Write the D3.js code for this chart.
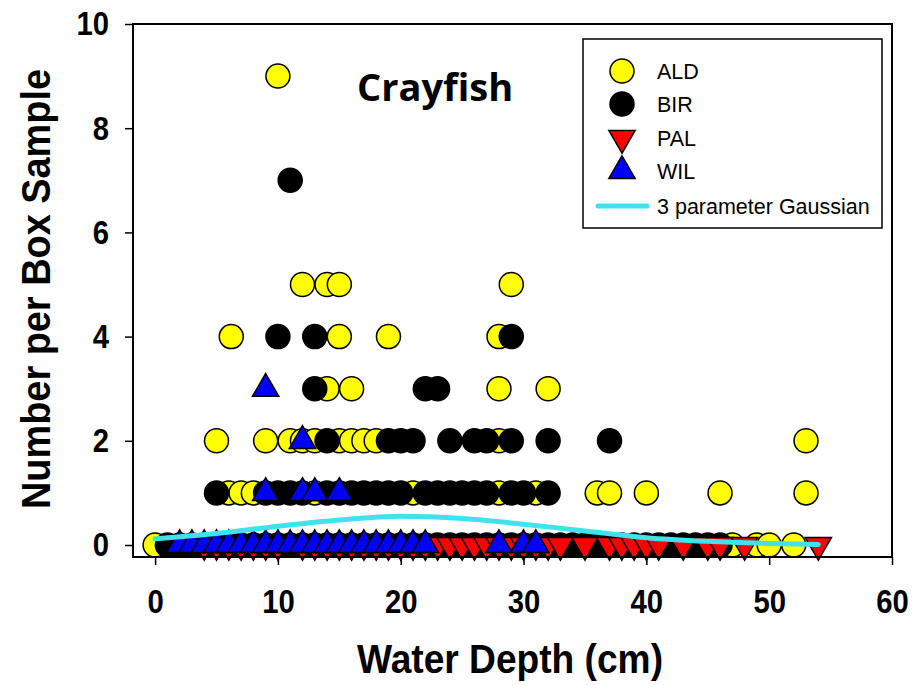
<!DOCTYPE html>
<html><head><meta charset="utf-8">
<script src="https://cdn.jsdelivr.net/npm/d3@7"></script>
<style>body{margin:0;background:#fff}</style>
</head><body><svg id="c" width="914" height="685"></svg>
<script>
// ---- data ----
const xTicks = [0, 10, 20, 30, 40, 50, 60];
const yTicks = [0, 2, 4, 6, 8, 10];
const seriesNames = ["ALD", "BIR", "PAL", "WIL"];

const aldDepth = [10, 12,14,15,29, 6.2,15,19,28, 14,16,28,32, 5,9,11,12,13,15,16,17,18,28,53, 6,7,8,13,21,28,31,36,37,40,46,53, 0,47,49,50,52];
const aldCount = [9, 5,5,5,5, 4,4,4,4, 3,3,3,3, 2,2,2,2,2,2,2,2,2,2,2, 1,1,1,1,1,1,1,1,1,1,1,1, 0,0,0,0,0];

const birDepth = [11, 10,13,29, 13,22,23, 14,19,20,21,24,26,27,29,32,37,
  5,9,10,11,12,14,15,16,17,18,19,20,22,23,24,25,26,27,29,30,32,
  1,2,3,4,5,6,7,8,9,10,11,12,13,14,15,16,17,18,19,20,21,22,23,24,25,26,27,28,29,30,31,32,33,34,35,36,37,38,39,40,41,42,43,44,45,46];
const birCount = [7, 4,4,4, 3,3,3, 2,2,2,2,2,2,2,2,2,2,
  1,1,1,1,1,1,1,1,1,1,1,1,1,1,1,1,1,1,1,1,1,
  0,0,0,0,0,0,0,0,0,0,0,0,0,0,0,0,0,0,0,0,0,0,0,0,0,0,0,0,0,0,0,0,0,0,0,0,0,0,0,0,0,0,0,0,0,0];

const palDepth = [4,5,6,7,8,9,10,12,13,14,15,16,17,18,19,20,21,22,23,24,25,26,27,28,29,30,31,32,33,35,37,38,39,40,41,43,45,46,48,54];
const palCount = [0,0,0,0,0,0,0,0,0,0,0,0,0,0,0,0,0,0,0,0,0,0,0,0,0,0,0,0,0,0,0,0,0,0,0,0,0,0,0,0];

const wilDepth = [9, 12, 9,12,13,15, 2,3,4,5,6,7,8,9,10,11,12,13,14,15,16,17,18,19,20,21,22,28,30,31];
const wilCount = [3, 2, 1,1,1,1, 0,0,0,0,0,0,0,0,0,0,0,0,0,0,0,0,0,0,0,0,0,0,0,0];

// 3 parameter Gaussian fit curve
const fitDepth = [0, 5, 10, 15, 20, 25, 30, 35, 40, 45, 50, 54];
const fitCount = [0.12, 0.22, 0.36, 0.48, 0.55, 0.51, 0.40, 0.27, 0.14, 0.07, 0.03, 0.01];

// ---- drawing ----
const svg = d3.select("#c");
const L = 133, R = 892, T = 24, B = 557;
const x = d3.scaleLinear().domain([-1.8, 60]).range([L, R]);
const y = d3.scaleLinear().domain([-0.23, 10]).range([B, T]);
const font = "'Liberation Sans', Arial, sans-serif";

const zip = (a, b) => a.map((v, i) => [v, b[i]]);
function condense(sel, f) {
  sel.each(function () {
    const w = this.getComputedTextLength();
    d3.select(this).attr("textLength", w * f).attr("lengthAdjust", "spacingAndGlyphs");
  });
}

const gPts = svg.append("g");
function circles(data, fill) {
  gPts.append("g").selectAll("circle").data(data).join("circle")
    .attr("cx", d => x(d[0])).attr("cy", d => y(d[1])).attr("r", 12)
    .attr("fill", fill).attr("stroke", "#000").attr("stroke-width", 1.5);
}
const tri = d3.symbol().type(d3.symbolTriangle).size(300);
function triangles(data, fill, down) {
  gPts.append("g").selectAll("path").data(data).join("path")
    .attr("d", tri)
    .attr("transform", d => `translate(${x(d[0])},${y(d[1])})${down ? " rotate(180)" : ""}`)
    .attr("fill", fill).attr("stroke", "#000").attr("stroke-width", 1.5);
}
circles(zip(aldDepth, aldCount), "#ffff00");
circles(zip(birDepth, birCount), "#000000");
triangles(zip(palDepth, palCount), "#ff0000", true);
triangles(zip(wilDepth, wilCount), "#0000ff", false);

const line = d3.line().x(d => x(d[0])).y(d => y(d[1])).curve(d3.curveMonotoneX);
svg.append("path").datum(zip(fitDepth, fitCount)).attr("d", line)
  .attr("fill", "none").attr("stroke", "#3ee3ef").attr("stroke-width", 5).attr("stroke-linecap", "round");

// frame
svg.append("rect").attr("x", L).attr("y", T).attr("width", R - L).attr("height", B - T)
  .attr("fill", "none").attr("stroke", "#000").attr("stroke-width", 2);

// axes
const xa = svg.append("g").attr("transform", `translate(0,${B})`)
  .call(d3.axisBottom(x).tickValues(xTicks).tickSize(8).tickPadding(24).tickFormat(d3.format("d")));
const ya = svg.append("g").attr("transform", `translate(${L},0)`)
  .call(d3.axisLeft(y).tickValues(yTicks).tickSize(8).tickPadding(16).tickFormat(d3.format("d")));
[xa, ya].forEach(a => {
  a.select(".domain").remove();
  a.selectAll("line").attr("stroke", "#000").attr("stroke-width", 1.5);
  a.selectAll("text").attr("font-family", font).attr("font-weight", "bold")
    .attr("font-size", 34).attr("fill", "#000");
  condense(a.selectAll("text"), 0.86);
});

// titles
svg.append("text").attr("x", 357).attr("y", 101).attr("font-family", "'Open Sans', sans-serif")
  .attr("font-weight", "bold").attr("font-size", 38).text("Crayfish");
svg.append("text").attr("x", 510).attr("y", 673).attr("text-anchor", "middle")
  .attr("font-family", font).attr("font-weight", "bold").attr("font-size", 40)
  .attr("textLength", 306).attr("lengthAdjust", "spacingAndGlyphs").text("Water Depth (cm)");
svg.append("text").attr("transform", "translate(50,289) rotate(-90)").attr("text-anchor", "middle")
  .attr("font-family", font).attr("font-weight", "bold").attr("font-size", 40)
  .attr("textLength", 440).attr("lengthAdjust", "spacingAndGlyphs").text("Number per Box Sample");

// legend
const lg = svg.append("g");
lg.append("rect").attr("x", 583).attr("y", 39).attr("width", 299).attr("height", 189)
  .attr("fill", "#fff").attr("stroke", "#000").attr("stroke-width", 1.5);
const legY = [71, 104, 138, 171, 206];
const legColors = ["#ffff00", "#000000", "#ff0000", "#0000ff"];
seriesNames.forEach((n, i) => {
  if (i < 2) {
    lg.append("circle").attr("cx", 622).attr("cy", legY[i]).attr("r", 12)
      .attr("fill", legColors[i]).attr("stroke", "#000").attr("stroke-width", 1.5);
  } else {
    lg.append("path").attr("d", tri)
      .attr("transform", `translate(622,${legY[i]})${i === 2 ? " rotate(180)" : ""}`)
      .attr("fill", legColors[i]).attr("stroke", "#000").attr("stroke-width", 1.5);
  }
  lg.append("text").attr("x", 657).attr("y", legY[i]).attr("dy", "0.35em")
    .attr("font-family", font).attr("font-size", 21.5).text(n);
});
lg.append("line").attr("x1", 598).attr("x2", 647).attr("y1", legY[4]).attr("y2", legY[4])
  .attr("stroke", "#3ee3ef").attr("stroke-width", 5).attr("stroke-linecap", "round");
lg.append("text").attr("x", 657).attr("y", legY[4]).attr("dy", "0.35em")
  .attr("font-family", font).attr("font-size", 21.5).text("3 parameter Gaussian");
</script></body></html>
